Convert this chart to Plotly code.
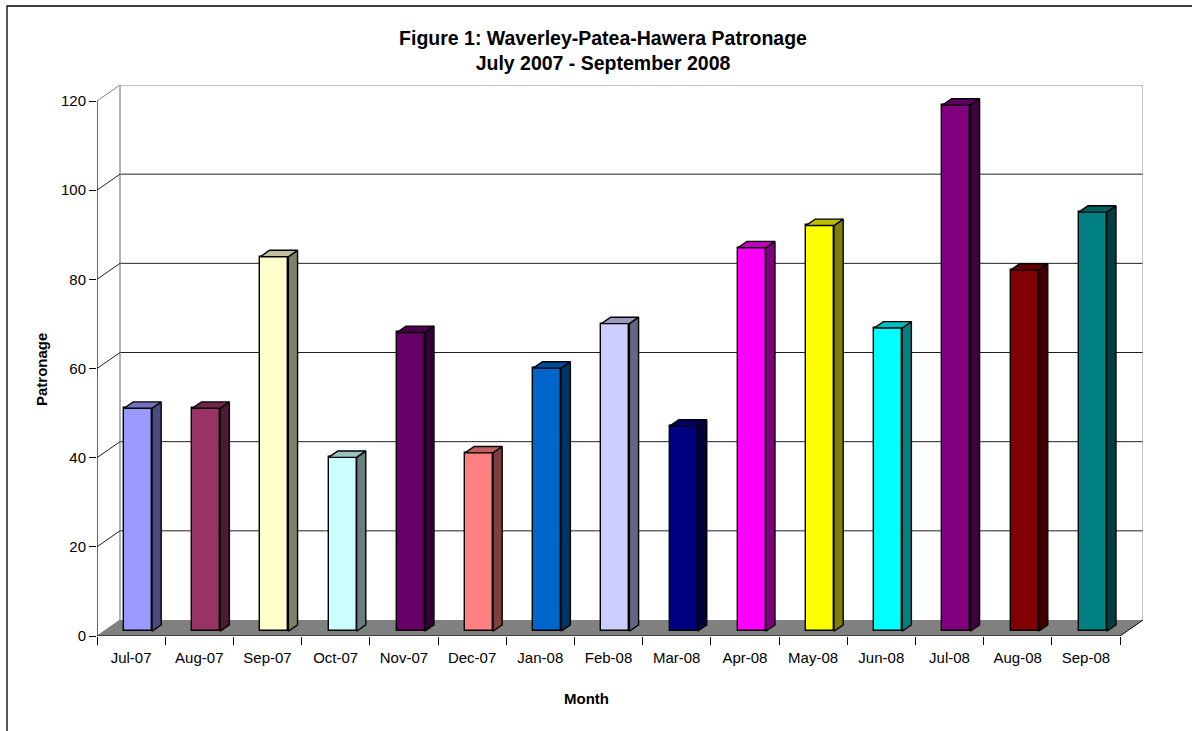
import plotly.graph_objects as go

# ---- data ----
months = ["Jul-07", "Aug-07", "Sep-07", "Oct-07", "Nov-07", "Dec-07", "Jan-08", "Feb-08",
          "Mar-08", "Apr-08", "May-08", "Jun-08", "Jul-08", "Aug-08", "Sep-08"]
patronage = [50, 50, 84, 39, 67, 40, 59, 69, 46, 86, 91, 68, 118, 81, 94]
bar_colors = ["#9999FF", "#993366", "#FFFFCC", "#CCFFFF", "#660066", "#FF8080", "#0066CC",
              "#CCCCFF", "#000080", "#FF00FF", "#FFFF00", "#00FFFF", "#800080", "#800000",
              "#008080"]
y_ticks = [0, 20, 40, 60, 80, 100, 120]

# ---- geometry (pseudo-3D) ----
W, H = 1192, 731
ML, MR, MT, MB = 97, 49, 85, 95
n = len(months)
YMAX = y_ticks[-1]
plot_w = W - ML - MR
plot_h = H - MT - MB
DEPTH_PX_X, DEPTH_PX_Y = 23, 16
cat_px = (plot_w - DEPTH_PX_X) / n
unit_px = (plot_h - DEPTH_PX_Y) / YMAX
DX = DEPTH_PX_X / cat_px
DY = DEPTH_PX_Y / unit_px
F1, F2 = 0.3, 0.7          # bar front/back depth fractions
BAR_W = 0.41


def shade(hexcol, k):
    h = hexcol.lstrip("#")
    r, g, b = (int(h[i:i + 2], 16) for i in (0, 2, 4))
    return "#%02X%02X%02X" % (round(r * k), round(g * k), round(b * k))


def px_to_paper(px, py):
    return (px - ML) / plot_w, (H - MB - py) / plot_h


fig = go.Figure()

# front faces
fig.add_trace(go.Bar(
    x=[i + F1 * DX for i in range(n)], y=patronage, base=F1 * DY, width=BAR_W,
    marker=dict(color=bar_colors, line=dict(color="black", width=1.4)),
    hoverinfo="skip", showlegend=False))

# side and top faces
for i, (v, c) in enumerate(zip(patronage, bar_colors)):
    xl = i + F1 * DX - BAR_W / 2
    xr = i + F1 * DX + BAR_W / 2
    ddx = (F2 - F1) * DX
    ddy = (F2 - F1) * DY
    yb = F1 * DY
    yt = F1 * DY + v
    fig.add_trace(go.Scatter(
        x=[xr, xr + ddx, xr + ddx, xr, xr], y=[yb, yb + ddy, yt + ddy, yt, yb],
        fill="toself", fillcolor=shade(c, 0.5), mode="lines",
        line=dict(color="black", width=1.4), hoverinfo="skip", showlegend=False))
    fig.add_trace(go.Scatter(
        x=[xl, xr, xr + ddx, xl + ddx, xl], y=[yt, yt, yt + ddy, yt + ddy, yt],
        fill="toself", fillcolor=shade(c, 0.75), mode="lines",
        line=dict(color="black", width=1.4), hoverinfo="skip", showlegend=False))

shapes = []
x0, x1 = -0.5, n - 0.5
# floor
shapes.append(dict(type="path", layer="below", xref="x", yref="y",
                   path=f"M {x0},0 L {x1},0 L {x1 + DX},{DY} L {x0 + DX},{DY} Z",
                   fillcolor="#808080", line=dict(width=0)))
# back wall gridlines
for v in y_ticks[1:-1]:
    shapes.append(dict(type="line", layer="below", x0=x0 + DX, x1=x1 + DX, y0=v + DY, y1=v + DY,
                       line=dict(color="#202020", width=1)))
# wall frame
shapes.append(dict(type="line", layer="below", x0=x0 + DX, x1=x0 + DX, y0=DY, y1=YMAX + DY,
                   line=dict(color="#808080", width=1.2)))
shapes.append(dict(type="line", layer="below", x0=x0 + DX, x1=x1 + DX, y0=YMAX + DY, y1=YMAX + DY,
                   line=dict(color="#808080", width=1.2)))
shapes.append(dict(type="line", layer="below", x0=x1 + DX, x1=x1 + DX, y0=DY, y1=YMAX + DY,
                   line=dict(color="#A0A0A0", width=1.2)))
# side-wall diagonals
for v in y_ticks:
    col = "#808080" if v in (0, YMAX) else "#202020"
    shapes.append(dict(type="line", layer="below", x0=x0, x1=x0 + DX, y0=v, y1=v + DY,
                       line=dict(color=col, width=1)))
# front axis lines
shapes.append(dict(type="line", layer="below", x0=x0, x1=x0, y0=0, y1=YMAX,
                   line=dict(color="black", width=1.2)))
shapes.append(dict(type="line", layer="below", x0=x0, x1=x1, y0=0, y1=0,
                   line=dict(color="black", width=1.2)))
shapes.append(dict(type="line", layer="below", x0=x1, x1=x1 + DX, y0=0, y1=DY,
                   line=dict(color="black", width=1)))
# outer chart border
bx0, by1 = px_to_paper(7, 6)
bx1, by0 = px_to_paper(W + 20, H + 20)
shapes.append(dict(type="rect", xref="paper", yref="paper", x0=bx0, x1=bx1, y0=by0, y1=by1,
                   line=dict(color="black", width=1.3), fillcolor="rgba(0,0,0,0)"))

font_family = "Liberation Sans, Arial, sans-serif"

# axis titles (placed like the original, centred on the whole chart area)
mx, my = px_to_paper(586, 698.5)
px_, py_ = px_to_paper(42, 370)
annotations = [
    dict(text="<b>Month</b>", xref="paper", yref="paper", x=mx, y=my,
         xanchor="center", yanchor="middle", showarrow=False, font=dict(size=15)),
    dict(text="<b>Patronage</b>", xref="paper", yref="paper", x=px_, y=py_, textangle=-90,
         xanchor="center", yanchor="middle", showarrow=False, font=dict(size=15)),
]

fig.update_layout(
    width=W, height=H, autosize=False,
    margin=dict(l=ML, r=MR, t=MT, b=MB, pad=0),
    paper_bgcolor="white", plot_bgcolor="rgba(0,0,0,0)",
    font=dict(family=font_family, size=15, color="black"),
    title=dict(text="<b>Figure 1: Waverley-Patea-Hawera Patronage<br>July 2007 - September 2008</b>",
               x=603 / W, xref="container", xanchor="center",
               y=1 - 45 / H, yref="container", yanchor="top",
               font=dict(family=font_family, size=19.5, color="black")),
    shapes=shapes,
    annotations=annotations,
    bargap=0, showlegend=False,
    xaxis=dict(range=[x0, x1 + DX], tickmode="array", tickvals=list(range(n)), ticktext=months,
               ticks="", showgrid=False, zeroline=False, showline=False,
               ticklabelstandoff=11,
               minor=dict(tickmode="array", tickvals=[i - 0.5 for i in range(n + 1)],
                          ticks="outside", ticklen=8, tickcolor="black", tickwidth=1, showgrid=False),
               fixedrange=True),
    yaxis=dict(range=[0, YMAX + DY], tickmode="array", tickvals=y_ticks,
               ticks="outside", ticklen=7, tickcolor="black", tickwidth=1,
               showgrid=False, zeroline=False, showline=False,
               fixedrange=True),
)

fig.write_html("out.html")
